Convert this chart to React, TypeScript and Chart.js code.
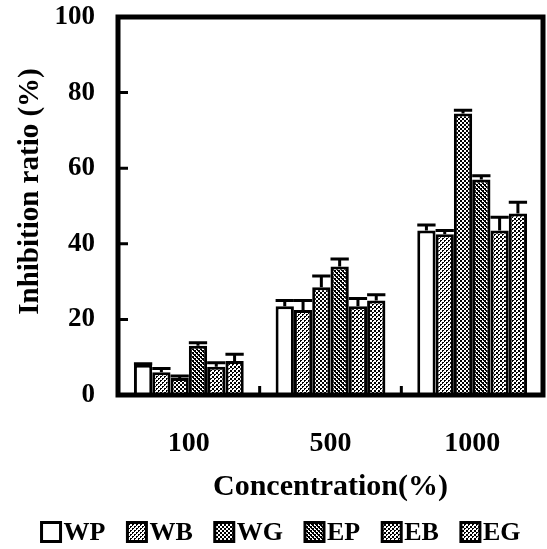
import React, { useEffect, useRef } from 'react';
import { Chart, registerables } from 'chart.js';

Chart.register(...registerables);

const categories = ['100', '500', '1000'];
const seriesNames = ['WP', 'WB', 'WG', 'EP', 'EB', 'EG'];

const WP = [8, 23.5, 43.5];
const WB = [6, 22.5, 42.5];
const WG = [4.5, 28.5, 74.5];
const EP = [13, 34, 57];
const EB = [7.5, 23.5, 43.5];
const EG = [9, 25, 48];

const WP_err = [0.3, 1.5, 1.5];
const WB_err = [1, 2.5, 1];
const WG_err = [0.5, 3, 0.8];
const EP_err = [0.8, 2, 1];
const EB_err = [1, 2, 3.5];
const EG_err = [1.8, 1.5, 3];

const yMin = 0;
const yMax = 100;
const yStep = 20;

const xTitle = 'Concentration(%)';
const yTitle = '    Inhibition ratio (%)';

const FONT = '"Liberation Serif", "Times New Roman", serif';

function makePattern(cells: number[][], size: number): CanvasPattern | string {
  const c = document.createElement('canvas');
  c.width = size;
  c.height = size;
  const ctx = c.getContext('2d');
  if (!ctx) return '#888';
  ctx.fillStyle = '#fff';
  ctx.fillRect(0, 0, size, size);
  ctx.fillStyle = '#000';
  cells.forEach(([x, y]) => ctx.fillRect(x, y, 1, 1));
  const p = ctx.createPattern(c, 'repeat');
  return p || '#888';
}

const errorBars = {
  id: 'errorBars',
  afterDatasetsDraw(chart: any) {
    const ctx = chart.ctx;
    const yScale = chart.scales.y;
    chart.data.datasets.forEach((ds: any, di: number) => {
      const meta = chart.getDatasetMeta(di);
      const errs: number[] = ds.errors || [];
      meta.data.forEach((bar: any, i: number) => {
        const v = ds.data[i];
        const e = errs[i] || 0;
        if (!e) return;
        const yTop = yScale.getPixelForValue(v + e);
        const yBase = yScale.getPixelForValue(v);
        const w = bar.width;
        ctx.save();
        ctx.strokeStyle = '#000';
        ctx.lineWidth = 3;
        ctx.beginPath();
        ctx.moveTo(bar.x, yBase);
        ctx.lineTo(bar.x, yTop);
        ctx.moveTo(bar.x - w / 2, yTop);
        ctx.lineTo(bar.x + w / 2, yTop);
        ctx.stroke();
        ctx.restore();
      });
    });
  },
};

const frame = {
  id: 'frame',
  afterDraw(chart: any) {
    const { ctx, chartArea } = chart;
    const { left, right, top, bottom } = chartArea;
    ctx.save();
    ctx.strokeStyle = '#000';
    ctx.lineWidth = 3;
    ctx.beginPath();
    const ys = chart.scales.y;
    for (let v = yMin + yStep; v < yMax; v += yStep) {
      const py = ys.getPixelForValue(v);
      ctx.moveTo(left, py);
      ctx.lineTo(left + 10, py);
    }
    const xs = chart.scales.x;
    for (let i = 0; i < categories.length - 1; i++) {
      const px = (xs.getPixelForValue(i) + xs.getPixelForValue(i + 1)) / 2;
      ctx.moveTo(px, bottom);
      ctx.lineTo(px, bottom - 9);
    }
    ctx.stroke();
    ctx.lineWidth = 5;
    ctx.strokeRect(left, top, right - left, bottom - top);
    ctx.restore();
  },
};

const customLegend = {
  id: 'customLegend',
  afterDraw(chart: any) {
    const ctx = chart.ctx;
    const box = 19;
    const gap = 3;
    const spacing = 22;
    const centerX = 281;
    const centerY = 532;
    ctx.save();
    ctx.font = `bold 26px ${FONT}`;
    const items = chart.data.datasets.map((ds: any) => ({
      label: ds.label,
      fill: ds.backgroundColor,
      w: box + gap + ctx.measureText(ds.label).width,
    }));
    const total = items.reduce((a: number, it: any) => a + it.w, 0) + spacing * (items.length - 1);
    let x = centerX - total / 2;
    ctx.textBaseline = 'middle';
    ctx.textAlign = 'left';
    items.forEach((it: any) => {
      ctx.fillStyle = it.fill;
      ctx.fillRect(x, centerY - box / 2, box, box);
      ctx.strokeStyle = '#000';
      ctx.lineWidth = 3;
      ctx.strokeRect(x, centerY - box / 2, box, box);
      ctx.fillStyle = '#000';
      ctx.fillText(it.label, x + box + gap, centerY + 1);
      x += it.w + spacing;
    });
    ctx.restore();
  },
};

export default function App() {
  const ref = useRef<HTMLCanvasElement>(null);

  useEffect(() => {
    if (!ref.current) return;
    Chart.defaults.font.family = FONT;

    const patWB = makePattern([[0, 0], [1, 0], [0, 1], [2, 2], [3, 2], [2, 3]], 4);
    const patWG = makePattern([[0, 0], [1, 0], [0, 1], [1, 1], [2, 2], [3, 2], [2, 3], [3, 3]], 4);
    const patEP = makePattern([[0, 0], [1, 0], [0, 1], [1, 1], [2, 2], [3, 2], [2, 3], [3, 3], [3, 0], [1, 2]], 4);
    const patEB = makePattern([[0, 0], [1, 0], [0, 1], [1, 1], [2, 2], [3, 2], [2, 3]], 4);
    const patEG = makePattern([[0, 0], [1, 0], [0, 1], [2, 2], [3, 2], [2, 3], [3, 3]], 4);

    const values = [WP, WB, WG, EP, EB, EG];
    const errs = [WP_err, WB_err, WG_err, EP_err, EB_err, EG_err];
    const fills = ['#ffffff', patWB, patWG, patEP, patEB, patEG];

    const chart = new Chart(ref.current, {
      type: 'bar',
      data: {
        labels: categories,
        datasets: seriesNames.map((name, i) => ({
          label: name,
          data: values[i],
          errors: errs[i],
          backgroundColor: fills[i],
          borderColor: '#000',
          borderWidth: 3,
          borderSkipped: 'bottom',
          categoryPercentage: 0.775,
          barPercentage: 1.0,
        })) as any,
      },
      options: {
        animation: false,
        responsive: false,
        maintainAspectRatio: false,
        layout: { padding: { left: 0, right: 4, top: 17, bottom: 0 } },
        plugins: {
          legend: { display: false },
          tooltip: { enabled: false },
        },
        scales: {
          x: {
            grid: { display: false },
            border: { display: false },
            ticks: { color: '#000', font: { size: 28, weight: 'bold', family: FONT }, padding: 24 },
            title: {
              display: true,
              text: xTitle,
              color: '#000',
              font: { size: 30, weight: 'bold', family: FONT },
              padding: { top: 0, bottom: 44 },
            },
            afterFit: (s: any) => {
              s.height = 154;
            },
          },
          y: {
            min: yMin,
            max: yMax,
            grid: {
              display: true,
              drawOnChartArea: false,
              drawTicks: true,
              tickLength: 23,
              color: 'rgba(0,0,0,0)',
            },
            border: { display: false },
            ticks: {
              stepSize: yStep,
              color: '#000',
              font: { size: 27, weight: 'bold', family: FONT },
              padding: 0,
            },
            title: {
              display: true,
              text: yTitle,
              color: '#000',
              font: { size: 29, weight: 'bold', family: FONT },
              padding: { top: 13, bottom: 0 },
            },
            afterFit: (s: any) => {
              s.width = 118;
            },
          },
        },
      } as any,
      plugins: [errorBars, frame, customLegend],
    });
    return () => chart.destroy();
  }, []);

  return (
    <div style={{ position: 'absolute', left: 0, top: 0, width: 547, height: 549, background: '#fff' }}>
      <canvas ref={ref} width={547} height={549} style={{ width: 547, height: 549 }} />
    </div>
  );
}
